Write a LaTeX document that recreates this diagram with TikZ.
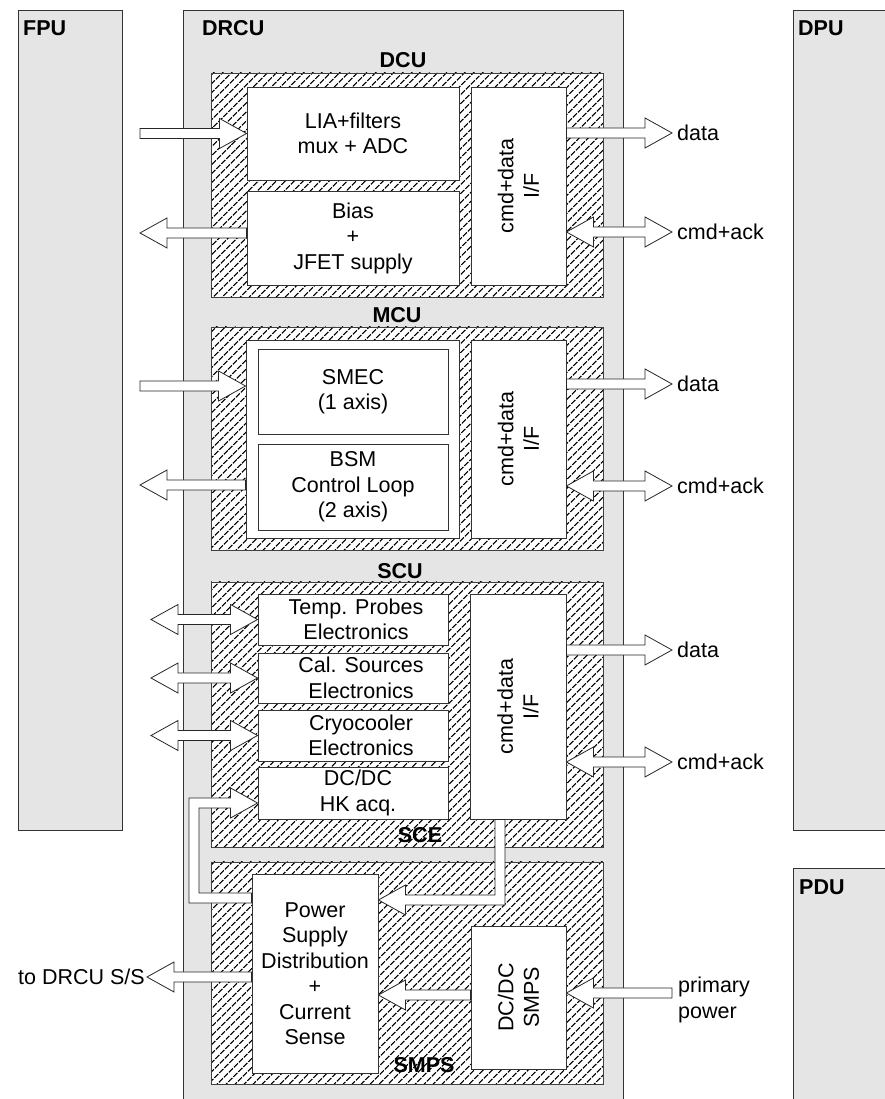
\documentclass[tikz,border=0pt]{standalone}
\usepackage{fontspec}
\setmainfont{Liberation Sans}
\usetikzlibrary{positioning, fit, calc, patterns.meta}

\newcommand\sz{\fontsize{21.5}{25.5}\selectfont}
\newcommand\shw{5pt}
\newcommand\hdw{15pt}
\newcommand\hdl{27pt}

% block arrow, tail #1 -> tip #2 (height taken from the tip)
\newcommand\fatarrow[2]{%
  \draw[fat] let \p1=(#1), \p2=(#2), \n1={ifthenelse(\x2>\x1,1,-1)*\hdl} in
    (\x1,{\y2+\shw}) -- ({\x2-\n1},{\y2+\shw}) -- ({\x2-\n1},{\y2+\hdw}) -- (\p2)
    -- ({\x2-\n1},{\y2-\hdw}) -- ({\x2-\n1},{\y2-\shw}) -- (\x1,{\y2-\shw}) -- cycle;}
% block arrow with two heads
\newcommand\fatboth[2]{%
  \draw[fat] let \p1=(#1), \p2=(#2), \n1={ifthenelse(\x2>\x1,1,-1)*\hdl} in
    (\x1,\y2) -- ({\x1+\n1},{\y2+\hdw}) -- ({\x1+\n1},{\y2+\shw})
    -- ({\x2-\n1},{\y2+\shw}) -- ({\x2-\n1},{\y2+\hdw}) -- (\p2)
    -- ({\x2-\n1},{\y2-\hdw}) -- ({\x2-\n1},{\y2-\shw})
    -- ({\x1+\n1},{\y2-\shw}) -- ({\x1+\n1},{\y2-\hdw}) -- cycle;}

\begin{document}
\begin{tikzpicture}[x=1pt, y=1pt, font=\sz,
    unit/.style={draw=black!80, fill=gray!20, line width=0.9pt, inner sep=0pt},
    hatch/.style={draw=black!75, line width=0.8pt, inner sep=0pt, preaction={fill=white},
      pattern={Lines[angle=45,distance=6.5pt,line width=1.5pt]}, pattern color=black},
    box/.style={draw=black!80, fill=white, line width=0.9pt, inner sep=0pt},
    tag/.style={font=\sz\bfseries, inner sep=0pt},
    txt/.style={inner sep=0pt, align=center},
    fat/.style={draw=black!85, fill=white, line width=0.8pt, line join=miter}]
  \useasboundingbox (0,0) rectangle (885,1099);
  \clip (0,0) rectangle (885,1099);

  % units
  \node[unit, fit={(18,269) (122,1089)}] (fpu) {};
  \node[unit, fit={(183,-5) (623,1089)}] (drcu) {};
  \node[unit, fit={(793,269) (895,1089)}] (dpu) {};
  \node[unit, fit={(793,-5) (895,231)}] (pdu) {};
  \node[tag, anchor=base west] (fpu lbl) at (23,1063) {FPU};
  \node[tag, anchor=base west] (drcu lbl) at (202,1063) {DRCU};
  \node[tag, anchor=base west] (dpu lbl) at (798,1063) {DPU};
  \node[tag, anchor=base west] (pdu lbl) at (799,204) {PDU};

  % sub-units
  \node[hatch, fit={(211,802) (603,1026)}] (dcu) {};
  \node[hatch, fit={(211,549) (603,772)}] (mcu) {};
  \node[hatch, fit={(211,252) (603,517)}] (scu) {};
  \node[hatch, fit={(211,15) (603,237)}] (smpsz) {};
  \node[tag, anchor=base] (dcu lbl) at (403,1031) {DCU};
  \node[tag, anchor=base] (mcu lbl) at (397,776) {MCU};
  \node[tag, anchor=base] (scu lbl) at (400,520) {SCU};
  \node[tag, anchor=base] (sce lbl) at (420,256) {SCE};
  \node[tag, anchor=base] (smps lbl) at (424,27) {SMPS};

  % DCU
  \node[box, fit={(247,919) (459,1012)}] (lia) {};
  \node[box, fit={(247,814) (459,908)}] (bias) {};
  \node[box, fit={(471,814) (566,1012)}] (dcuif) {};
  \node[txt] (lia txt) at (lia) {LIA+filters\\mux + ADC};
  \node[txt] (bias txt) at (bias) {Bias\\+\\JFET supply};
  \node[txt, rotate=90] (dcuif txt) at (dcuif) {cmd+data\\I/F};

  % MCU
  \node[box, fit={(246,561) (459,759)}] (mcubox) {};
  \node[box, fit={(258,665) (448,750)}] (smec) {};
  \node[box, fit={(258,569) (448,655)}] (bsm) {};
  \node[box, fit={(471,561) (566,759)}] (mcuif) {};
  \node[txt] (smec txt) at (smec) {SMEC\\(1 axis)};
  \node[txt] (bsm txt) at (bsm) {BSM\\Control Loop\\(2 axis)};
  \node[txt, rotate=90] (mcuif txt) at (mcuif) {cmd+data\\I/F};

  % SCU
  \node[box, fit={(258,454) (448,505)}] (temp) {};
  \node[box, fit={(258,396) (448,446)}] (cal) {};
  \node[box, fit={(258,338) (448,389)}] (cryo) {};
  \node[box, fit={(258,280) (448,332)}] (hk) {};
  \node[box, fit={(470,280) (566,505)}] (scuif) {};
  \node[txt, xshift=3pt] (temp txt) at (temp) {Temp. Probes\\Electronics};
  \node[txt, xshift=8pt] (cal txt) at (cal) {Cal. Sources\\Electronics};
  \node[txt, xshift=8pt] (cryo txt) at (cryo) {Cryocooler\\Electronics};
  \node[txt, xshift=5pt] (hk txt) at (hk) {DC/DC\\HK acq.};
  \node[txt, rotate=90] (scuif txt) at (scuif) {cmd+data\\I/F};

  % SMPS
  \node[box, fit={(252,26) (378,225)}] (psd) {};
  \node[box, fit={(471,30) (566,173)}] (smps) {};
  \node[txt] (psd txt) at (psd) {Power\\Supply\\Distribution\\+\\Current\\Sense};
  \node[txt, rotate=90] (smps txt) at (smps) {DC/DC\\SMPS};

  % connectors
  \coordinate (dcu in) at (140,966);
  \coordinate (dcu out) at (140,866);
  \coordinate (dcu data) at (672,966);
  \coordinate (dcu ack) at (672,867);
  \fatarrow{dcu in}{lia.west}
  \fatarrow{bias.west}{dcu out}
  \fatarrow{dcuif.east}{dcu data}
  \fatboth{dcuif.east}{dcu ack}

  \coordinate (mcu in) at (140,713);
  \coordinate (mcu out) at (140,614);
  \coordinate (mcu data) at (672,715);
  \coordinate (mcu ack) at (672,613);
  \fatarrow{mcu in}{mcubox.west |- mcu in}
  \fatarrow{mcubox.west}{mcu out}
  \fatarrow{mcuif.east}{mcu data}
  \fatboth{mcuif.east}{mcu ack}

  \coordinate (tp ext) at (151,480);
  \coordinate (cs ext) at (151,421);
  \coordinate (cc ext) at (151,363);
  \coordinate (scu data) at (672,449);
  \coordinate (scu ack) at (672,337);
  \fatboth{tp ext}{temp.west}
  \fatboth{cs ext}{cal.west}
  \fatboth{cc ext}{cryo.west}
  \fatarrow{scuif.east}{scu data}
  \fatboth{scuif.east}{scu ack}

  \coordinate (drcu ss) at (147,122);
  \coordinate (prim) at (672,106);
  \fatarrow{psd.west}{drcu ss}
  \fatarrow{smps.west}{psd.east |- 0,104}
  \fatarrow{prim}{smps.east |- prim}

  % bent pipes
  \coordinate (sce out) at (scuif.south -| 500,0);
  \coordinate (ps in) at (psd.east |- 0,199);
  \draw[fat] let \p1=(sce out), \p2=(ps in) in
    ({\x1+\shw},\y1) -- ({\x1+\shw},{\y2-\shw}) -- ({\x2+\hdl},{\y2-\shw}) -- ({\x2+\hdl},{\y2-\hdw}) -- (\p2)
    -- ({\x2+\hdl},{\y2+\hdw}) -- ({\x2+\hdl},{\y2+\shw}) -- ({\x1-\shw},{\y2+\shw}) -- ({\x1-\shw},\y1) -- cycle;
  \coordinate (ps hk) at (psd.west |- 0,201);
  \coordinate (hk in) at (hk.west |- 0,296);
  \coordinate (hk bend) at (194,0);
  \draw[fat] let \p1=(ps hk), \p2=(hk in), \p3=(hk bend) in
    (\x1,{\y1+\shw}) -- ({\x3+\shw},{\y1+\shw}) -- ({\x3+\shw},{\y2-\shw}) -- ({\x2-\hdl},{\y2-\shw})
    -- ({\x2-\hdl},{\y2-\hdw}) -- (\p2) -- ({\x2-\hdl},{\y2+\hdw}) -- ({\x2-\hdl},{\y2+\shw})
    -- ({\x3-\shw},{\y2+\shw}) -- ({\x3-\shw},{\y1-\shw}) -- (\x1,{\y1-\shw}) -- cycle;

  % labels
  \node[txt, right=5pt of dcu data] (dcu data lbl) {data};
  \node[txt, right=5pt of dcu ack] (dcu ack lbl) {cmd+ack};
  \node[txt, right=5pt of mcu data] (mcu data lbl) {data};
  \node[txt, right=5pt of mcu ack] (mcu ack lbl) {cmd+ack};
  \node[txt, right=5pt of scu data] (scu data lbl) {data};
  \node[txt, right=5pt of scu ack] (scu ack lbl) {cmd+ack};
  \node[txt, left=2pt of drcu ss] (drcu ss lbl) {to DRCU S/S};
  \node[txt, align=left, right=6pt of prim, yshift=-7pt] (prim lbl) {primary\\power};
\end{tikzpicture}
\end{document}
